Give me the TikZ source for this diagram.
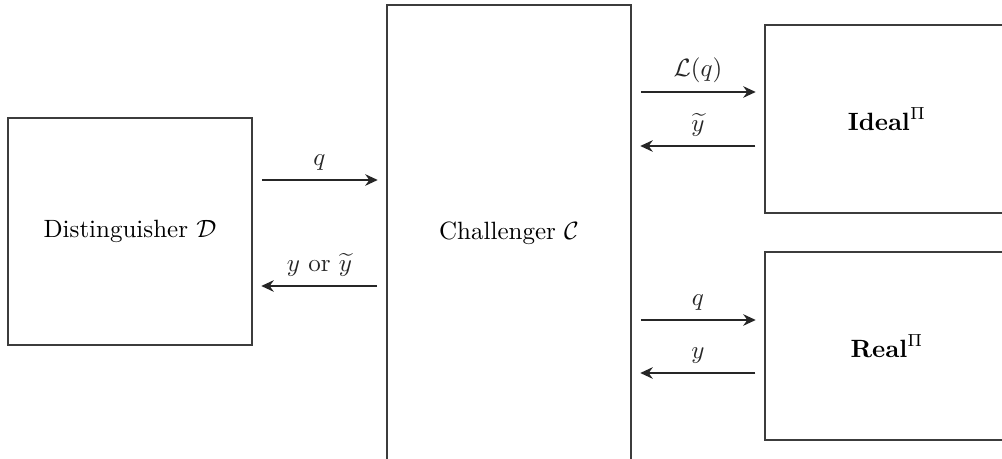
\documentclass[tikz,border=0pt]{standalone}
\usepackage{amsmath,amssymb}
\usetikzlibrary{arrows.meta,positioning,calc}
\definecolor{caja}{RGB}{60,60,60}

\begin{document}
\begin{tikzpicture}[x=0.4pt,y=-0.4pt,
     bloque/.style={rectangle, draw=caja, line width=0.6pt, inner sep=0pt,
                    minimum width=97.6pt, align=center},
     fl/.style={-{Stealth[length=5pt,width=4.6pt]}, black!85, line width=0.8pt,
                shorten <=3.6pt, shorten >=3.4pt}]
    \clip (0,0) rectangle (1002,459);
    \node[bloque, minimum height=90.8pt] (dist) at (130,231.5) {Distinguisher $\mathcal{D}$};
    \node[bloque, minimum height=182.8pt] (chal) at (509,233.5) {Challenger $\mathcal{C}$};
    \node[bloque, minimum height=75.2pt] (ideal) at (887,119) {$\mathbf{Ideal}^{\Pi}$};
    \node[bloque, minimum height=75.2pt] (real) at (887,346) {$\mathbf{Real}^{\Pi}$};
    % distinguisher <-> challenger
    \draw[fl] ($(dist.east)+(0,20.6pt)$) -- node[above] {$q$} ($(dist.east -| chal.west)+(0,20.6pt)$);
    \draw[fl] ($(dist.east -| chal.west)+(0,-21.8pt)$) -- node[above] {$y$ or $\widetilde{y}$} ($(dist.east)+(0,-21.8pt)$);
    % challenger <-> ideal / real
    \draw[fl] ($(ideal.west -| chal.east)+(0,10.8pt)$) -- node[above] {$\mathcal{L}(q)$} ($(ideal.west)+(0,10.8pt)$);
    \draw[fl] ($(ideal.west)+(0,-10.8pt)$) -- node[above] {$\widetilde{y}$} ($(ideal.west -| chal.east)+(0,-10.8pt)$);
    \draw[fl] ($(real.west -| chal.east)+(0,10.4pt)$) -- node[above] {$q$} ($(real.west)+(0,10.4pt)$);
    \draw[fl] ($(real.west)+(0,-10.8pt)$) -- node[above] {$y$} ($(real.west -| chal.east)+(0,-10.8pt)$);
  \end{tikzpicture}
\end{document}
